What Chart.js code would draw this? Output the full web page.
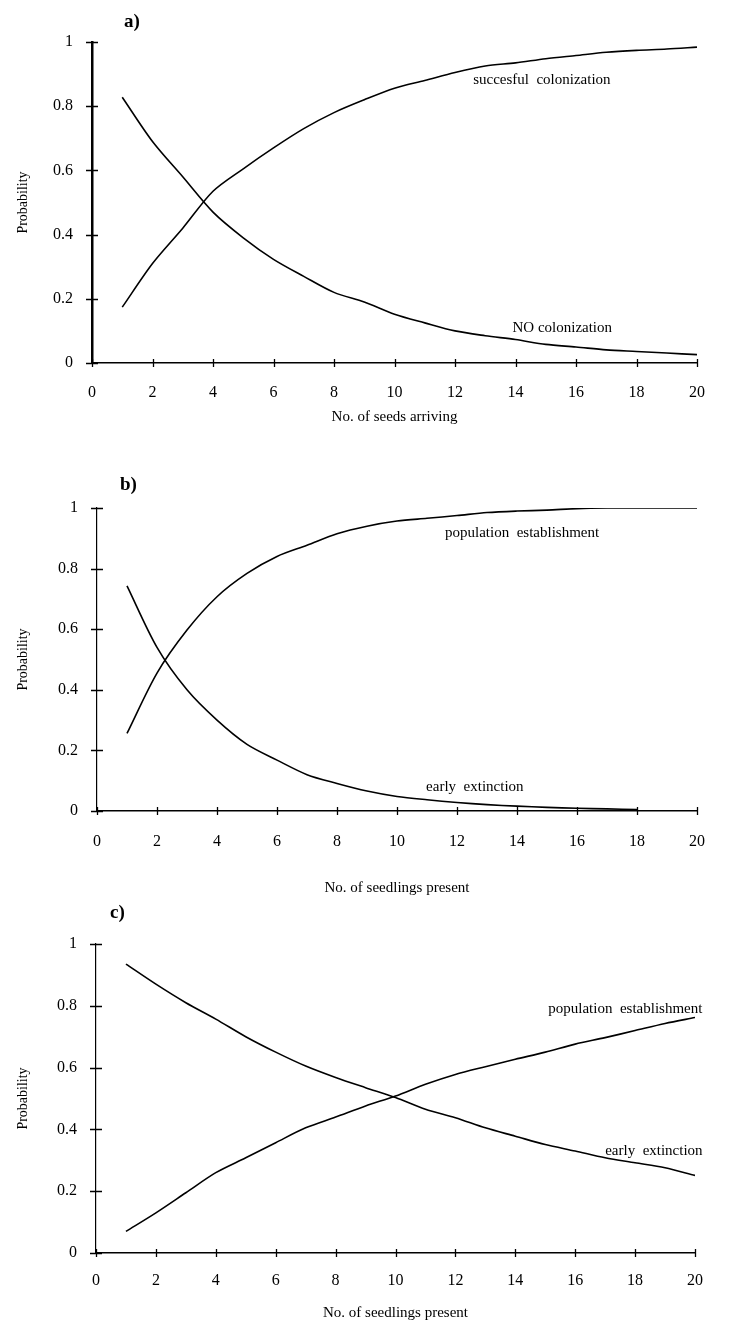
<!DOCTYPE html>
<html>
<head>
<meta charset="utf-8">
<script src="https://cdn.jsdelivr.net/npm/chart.js@4.4.1/dist/chart.umd.min.js"></script>
<style>
  html, body { margin: 0; padding: 0; background: #fff; }
  body { width: 741px; height: 1326px; position: relative; overflow: hidden; }
  .panel { position: absolute; left: 0; width: 741px; }
  .tag { position: absolute; font: bold 19px "Liberation Serif", serif; color: #000; }
</style>
</head>
<body>
<div class="panel" id="boxA" style="top:0;height:440px"><canvas id="chartA"></canvas></div>
<div class="panel" id="boxB" style="top:440px;height:460px"><canvas id="chartB"></canvas></div>
<div class="panel" id="boxC" style="top:900px;height:426px"><canvas id="chartC"></canvas></div>
<div class="tag" style="left:124px;top:10px">a)</div>
<div class="tag" style="left:120px;top:473px">b)</div>
<div class="tag" style="left:110px;top:901px">c)</div>

<script>
// ---- data ----
const nSeeds = [1, 2, 3, 4, 5, 6, 7, 8, 9, 10, 11, 12, 13, 14, 15, 16, 17, 18, 19, 20];
const colonisedA   = [0.174, 0.31, 0.42, 0.535, 0.605, 0.67, 0.73, 0.78, 0.82, 0.856, 0.88, 0.905, 0.925, 0.935, 0.948, 0.958, 0.968, 0.974, 0.978, 0.984];
const noColonisedA = [0.828, 0.69, 0.58, 0.47, 0.39, 0.323, 0.27, 0.22, 0.19, 0.152, 0.125, 0.10, 0.085, 0.073, 0.058, 0.05, 0.041, 0.036, 0.031, 0.026];

const nSeedlingsB  = [1, 2, 3, 4, 5, 6, 7, 8, 9, 10, 11, 12, 13, 14, 15, 16, 17, 18, 19, 20];
const establishB   = [0.256, 0.455, 0.597, 0.707, 0.784, 0.84, 0.877, 0.915, 0.94, 0.957, 0.966, 0.975, 0.985, 0.99, 0.993, 0.998, 1.0, 1.0, 1.0, 1.0];
const nSeedlingsB2 = [1, 2, 3, 4, 5, 6, 7, 8, 9, 10, 11, 12, 13, 14, 15, 16, 17, 18];
const extinctB     = [0.743, 0.54, 0.40, 0.30, 0.22, 0.168, 0.12, 0.091, 0.066, 0.048, 0.037, 0.028, 0.021, 0.016, 0.012, 0.009, 0.007, 0.005];

const nSeedlingsC  = [1, 2, 3, 4, 5, 6, 7, 8, 9, 10, 11, 12, 13, 14, 15, 16, 17, 18, 19, 20];
const establishC   = [0.07, 0.13, 0.195, 0.26, 0.308, 0.357, 0.405, 0.44, 0.476, 0.508, 0.546, 0.578, 0.603, 0.627, 0.65, 0.676, 0.697, 0.72, 0.743, 0.762];
const extinctC     = [0.935, 0.87, 0.81, 0.757, 0.70, 0.65, 0.605, 0.568, 0.535, 0.503, 0.465, 0.438, 0.405, 0.378, 0.351, 0.33, 0.308, 0.292, 0.276, 0.251];

const xTicks = [0, 2, 4, 6, 8, 10, 12, 14, 16, 18, 20];
const yTicks = [0, 0.2, 0.4, 0.6, 0.8, 1];

const SERIF = '"Liberation Serif", "DejaVu Serif", serif';

function pts(xs, ys) {
  return xs.map((x, i) => ({ x: x, y: ys[i] }));
}

// curve captions, anchored in data units (left edge, vertical middle)
const crossTicks = {
  id: 'crossTicks',
  afterDraw(chart) {
    const ctx = chart.ctx;
    const xs = chart.scales.x, ys = chart.scales.y;
    ctx.save();
    ctx.strokeStyle = '#000';
    ctx.lineWidth = 1.3;
    ctx.beginPath();
    xTicks.forEach(v => {
      const px = Math.round(xs.getPixelForValue(v)) + 0.5;
      ctx.moveTo(px, xs.top - 4);
      ctx.lineTo(px, xs.top + 4);
    });
    yTicks.forEach(v => {
      const py = Math.round(ys.getPixelForValue(v)) + 0.5;
      ctx.moveTo(ys.right - 6, py);
      ctx.lineTo(ys.right + 6, py);
    });
    ctx.stroke();

    const notes = chart.options.plugins.crossTicks.notes || [];
    ctx.fillStyle = '#000';
    ctx.font = '15px ' + SERIF;
    ctx.textAlign = 'left';
    ctx.textBaseline = 'middle';
    notes.forEach(n => {
      ctx.fillText(n.text, xs.getPixelForValue(n.x), ys.getPixelForValue(n.y));
    });
    ctx.restore();
  }
};

function makeChart(id, cfg) {
  const ds = cfg.series.map(s => ({
    data: s,
    borderColor: '#000',
    borderWidth: 1.6,
    pointRadius: 0,
    tension: 0.3,
    fill: false
  }));
  return new Chart(document.getElementById(id), {
    type: 'line',
    data: { datasets: ds },
    plugins: [crossTicks],
    options: {
      responsive: true,
      maintainAspectRatio: false,
      animation: false,
      layout: { padding: { top: cfg.padTop, right: cfg.padRight, left: 0, bottom: 0 } },
      plugins: {
        legend: { display: false },
        tooltip: { enabled: false },
        crossTicks: { notes: cfg.notes }
      },
      scales: {
        x: {
          type: 'linear', min: 0, max: 20,
          afterBuildTicks: s => { s.ticks = xTicks.map(v => ({ value: v })); },
          afterFit: s => { s.height = cfg.xHeight; },
          grid: { drawOnChartArea: false, drawTicks: false },
          border: { color: '#000', width: 1.5 },
          ticks: { color: '#000', padding: cfg.xLabelPad, font: { family: SERIF, size: 16 } },
          title: {
            display: true, text: cfg.xTitle, color: '#000',
            font: { family: SERIF, size: 15 },
            padding: { top: 0, bottom: cfg.xTitlePad }
          }
        },
        y: {
          type: 'linear', min: 0, max: 1,
          afterBuildTicks: s => { s.ticks = yTicks.map(v => ({ value: v })); },
          afterFit: s => { s.width = cfg.yWidth; },
          grid: { drawOnChartArea: false, drawTicks: false },
          border: { color: '#000', width: cfg.yBorder },
          ticks: {
            color: '#000', padding: 19, font: { family: SERIF, size: 16 },
            callback: v => String(+v.toFixed(1))
          },
          title: {
            display: true, text: 'Probability', color: '#000',
            font: { family: SERIF, size: 14 },
            padding: { top: 15, bottom: 0 }
          }
        }
      }
    }
  });
}

makeChart('chartA', {
  series: [pts(nSeeds, colonisedA), pts(nSeeds, noColonisedA)],
  xTitle: 'No. of seeds arriving',
  padTop: 42, padRight: 44, xHeight: 77, yWidth: 92, yBorder: 2.5,
  xLabelPad: 20, xTitlePad: 14,
  notes: [
    { text: 'succesful  colonization', x: 12.6, y: 0.882 },
    { text: 'NO colonization', x: 13.9, y: 0.109 }
  ]
});

makeChart('chartB', {
  series: [pts(nSeedlingsB, establishB), pts(nSeedlingsB2, extinctB)],
  xTitle: 'No. of seedlings present',
  padTop: 68, padRight: 44, xHeight: 89, yWidth: 97, yBorder: 1.2,
  xLabelPad: 21, xTitlePad: 3,
  notes: [
    { text: 'population  establishment', x: 11.6, y: 0.917 },
    { text: 'early  extinction', x: 10.97, y: 0.079 }
  ]
});

makeChart('chartC', {
  series: [pts(nSeedlingsC, establishC), pts(nSeedlingsC, extinctC)],
  xTitle: 'No. of seedlings present',
  padTop: 44, padRight: 46, xHeight: 73, yWidth: 96, yBorder: 1.2,
  xLabelPad: 18, xTitlePad: 4,
  notes: [
    { text: 'population  establishment', x: 15.1, y: 0.79 },
    { text: 'early  extinction', x: 17.0, y: 0.33 }
  ]
});
</script>
</body>
</html>
